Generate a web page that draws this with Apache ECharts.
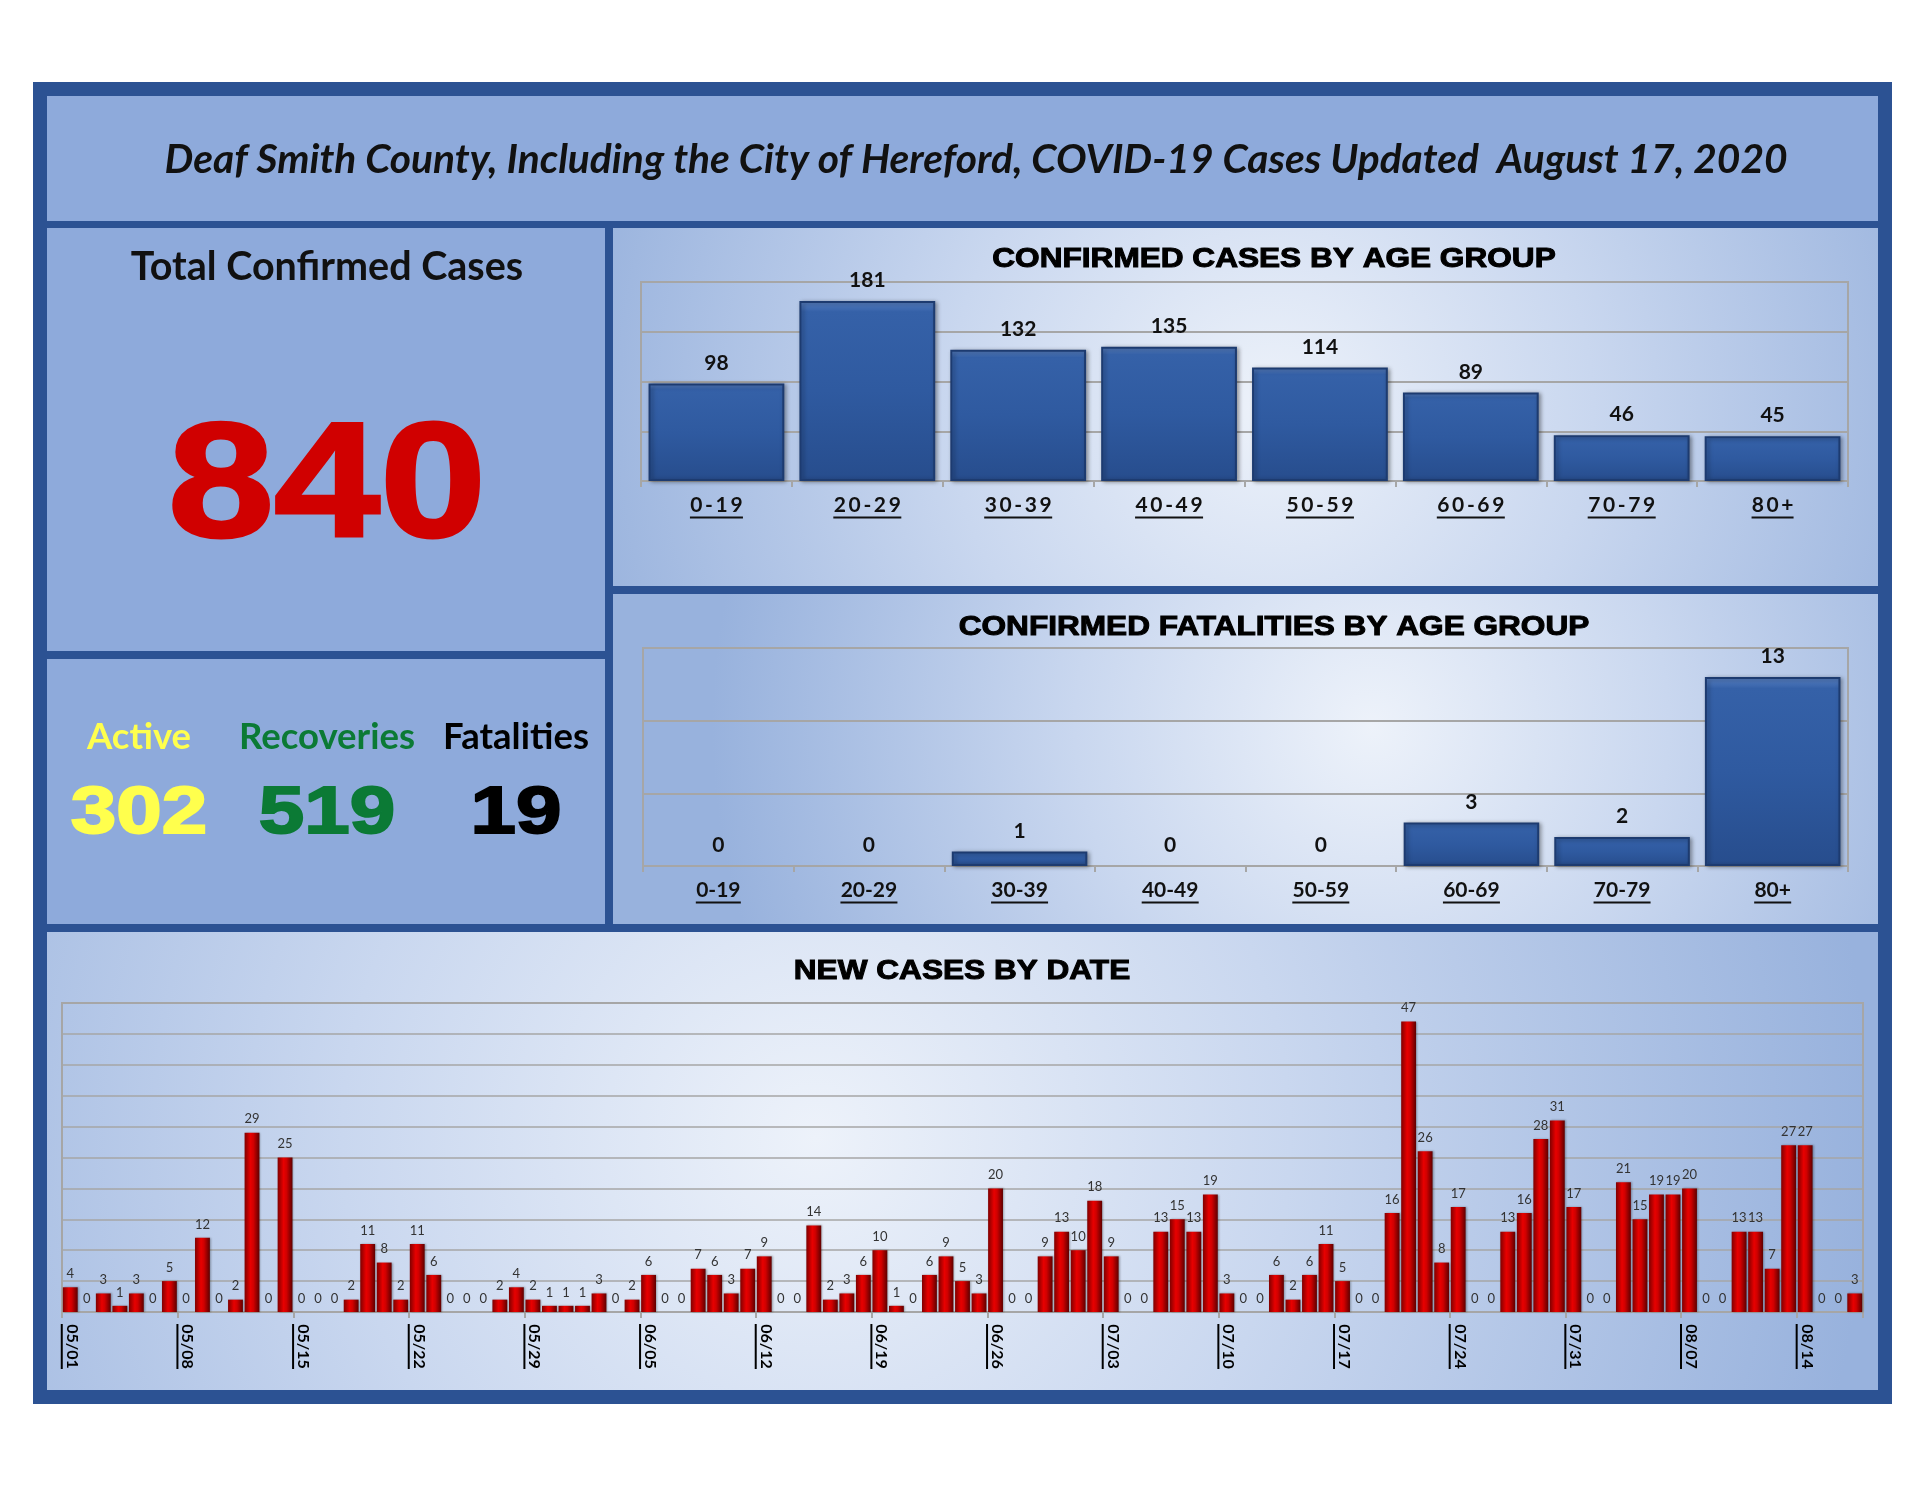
<!DOCTYPE html>
<html><head><meta charset="utf-8">
<script src="https://cdn.jsdelivr.net/npm/echarts@6/dist/echarts.min.js"></script>
<style>html,body{margin:0;padding:0;background:#fff}#c{width:1925px;height:1488px}</style>
</head><body><div id="c"></div>
<script>
// ---------------- data ----------------
const reportTitle = 'Deaf Smith County, Including the City of Hereford, COVID-19 Cases Updated  August 17, 2020';
const totalLabel = 'Total Confirmed Cases';
const totalCases = 840;
const statusLabels = ['Active', 'Recoveries', 'Fatalities'];
const statusValues = [302, 519, 19];
const chartTitles = ['CONFIRMED CASES BY AGE GROUP', 'CONFIRMED FATALITIES BY AGE GROUP', 'NEW CASES BY DATE'];
const ageGroups = ['0-19', '20-29', '30-39', '40-49', '50-59', '60-69', '70-79', '80+'];
const casesByAge = [98, 181, 132, 135, 114, 89, 46, 45];
const fatalitiesByAge = [0, 0, 1, 0, 0, 3, 2, 13];
const dates = [
  '05/01','05/02','05/03','05/04','05/05','05/06','05/07','05/08','05/09','05/10','05/11','05/12','05/13','05/14','05/15','05/16',
  '05/17','05/18','05/19','05/20','05/21','05/22','05/23','05/24','05/25','05/26','05/27','05/28','05/29','05/30','05/31',
  '06/01','06/02','06/03','06/04','06/05','06/06','06/07','06/08','06/09','06/10','06/11','06/12','06/13','06/14','06/15',
  '06/16','06/17','06/18','06/19','06/20','06/21','06/22','06/23','06/24','06/25','06/26','06/27','06/28','06/29','06/30',
  '07/01','07/02','07/03','07/04','07/05','07/06','07/07','07/08','07/09','07/10','07/11','07/12','07/13','07/14','07/15','07/16',
  '07/17','07/18','07/19','07/20','07/21','07/22','07/23','07/24','07/25','07/26','07/27','07/28','07/29','07/30','07/31',
  '08/01','08/02','08/03','08/04','08/05','08/06','08/07','08/08','08/09','08/10','08/11','08/12','08/13','08/14','08/15','08/16','08/17'
];
const newCases = [
  4,0,3,1,3,0,5,0,12,0,2,29,0,25,0,0,0,2,11,8,2,11,6,0,0,0,2,4,2,1,1,
  1,3,0,2,6,0,0,7,6,3,7,9,0,0,14,2,3,6,10,1,0,6,9,5,3,20,0,0,9,13,
  10,18,9,0,0,13,15,13,19,3,0,0,6,2,6,11,5,0,0,16,47,26,8,17,0,0,13,16,28,31,17,
  0,0,21,15,19,19,20,0,0,13,13,7,27,27,0,0,3
];
const weeklyLabelStep = 7;

// ---------------- helpers ----------------
const mctx = document.createElement('canvas').getContext('2d');
function textWidth(s, font) { mctx.font = font; return Math.ceil(mctx.measureText(s).width); }
function underlinedLabels(labels, size, color, spaced) {
  const font = 'bold ' + size + 'px Lato';
  const show = (l) => spaced ? l.split('').join('\u2009') : l;
  const rich = { t: { fontFamily: 'Lato', fontWeight: 'bold', fontSize: size, color: color, lineHeight: size + 1, align: 'center' } };
  labels.forEach((l, i) => {
    rich['u' + i] = { width: textWidth(show(l), font), height: 2, lineHeight: 3, backgroundColor: color, align: 'center' };
  });
  return { rich: rich, formatter: (v, i) => '{t|' + show(v) + '}\n{u' + i + '|}' };
}

const chart = echarts.init(document.getElementById('c'), null, { renderer: 'canvas' });
const G = echarts.graphic;

const panelFlat = '#8EAADB';
const frameColor = '#2C5293';
function radial(cx, cy, r) {
  return new G.RadialGradient(cx, cy, r, [
    { offset: 0, color: '#edf2fa' },
    { offset: 0.45, color: '#c9d7ef' },
    { offset: 1, color: '#98b2dd' }
  ]);
}
const blueBar = new G.LinearGradient(0, 0, 0, 1, [
  { offset: 0, color: '#5a82c4' },
  { offset: 0.06, color: '#3561a8' },
  { offset: 0.5, color: '#2f5aa0' },
  { offset: 1, color: '#274d8d' }
]);
const redBar = new G.LinearGradient(0, 0, 1, 0, [
  { offset: 0, color: '#800000' },
  { offset: 0.4, color: '#e80000' },
  { offset: 0.6, color: '#d00000' },
  { offset: 1, color: '#5e0000' }
]);

const topLab = underlinedLabels(ageGroups, 21, '#111', true);
const fatLab = underlinedLabels(ageGroups, 21, '#111', false);
const dateLab = underlinedLabels(dates, 16, '#000', false);

const gridLine = { show: true, lineStyle: { color: '#a6a6a6', width: 2 } };
const titleStyle = { x: 0, y: 0, fontFamily: 'Liberation Sans', fontWeight: 'bold', fontSize: 27, fill: '#000', stroke: '#000', lineWidth: 1, textAlign: 'center', textVerticalAlign: 'middle' };

const graphics = [
  { type: 'rect', z: -20, shape: { x: 33, y: 82, width: 1859, height: 1322 }, style: { fill: frameColor } },
  { type: 'rect', z: -19, shape: { x: 47, y: 96, width: 1831, height: 125 }, style: { fill: panelFlat } },
  { type: 'rect', z: -19, shape: { x: 47, y: 228, width: 558, height: 423 }, style: { fill: panelFlat } },
  { type: 'rect', z: -19, shape: { x: 47, y: 659, width: 558, height: 265 }, style: { fill: panelFlat } },
  { type: 'rect', z: -19, shape: { x: 613, y: 228, width: 1265, height: 358 }, style: { fill: radial(0.52, 0.5, 2.0) } },
  { type: 'rect', z: -19, shape: { x: 613, y: 594, width: 1265, height: 330 }, style: { fill: radial(0.6, 0.4, 2.0) } },
  { type: 'rect', z: -19, shape: { x: 47, y: 932, width: 1831, height: 458 }, style: { fill: radial(0.42, 0.45, 2.3) } },
  { type: 'text', z: 50, x: 976, y: 160, style: { text: reportTitle, x: 0, y: 0, fontFamily: 'Lato', fontWeight: 'bold', fontStyle: 'italic', fontSize: 40.7, fill: '#111', textAlign: 'center', textVerticalAlign: 'middle' } },
  { type: 'text', z: 50, x: 327, y: 267, style: { text: totalLabel, x: 0, y: 0, fontFamily: 'Lato', fontWeight: 'bold', fontSize: 39.5, fill: '#111', textAlign: 'center', textVerticalAlign: 'middle' } },
  { type: 'text', z: 50, x: 327, y: 491, scaleX: 1.17, style: { text: String(totalCases), x: 0, y: 0, fontFamily: 'Liberation Sans', fontWeight: 'bold', fontSize: 163, fill: '#D00000', stroke: '#D00000', lineWidth: 3, textAlign: 'center', textVerticalAlign: 'middle' } },
  { type: 'text', z: 50, x: 1274, y: 260, scaleX: 1.17, style: Object.assign({ text: chartTitles[0] }, titleStyle) },
  { type: 'text', z: 50, x: 1274, y: 628, scaleX: 1.17, style: Object.assign({ text: chartTitles[1] }, titleStyle) },
  { type: 'text', z: 50, x: 962, y: 972, scaleX: 1.17, style: Object.assign({ text: chartTitles[2] }, titleStyle) }
];
const statusX = [139, 327, 516];
const statusColors = ['#FFFF4D', '#0B7A35', '#000000'];
statusLabels.forEach((lab, i) => {
  graphics.push({ type: 'text', z: 50, x: statusX[i], y: 737, style: { text: lab, x: 0, y: 0, fontFamily: 'Lato', fontWeight: 'bold', fontSize: 36.5, fill: statusColors[i], textAlign: 'center', textVerticalAlign: 'middle' } });
  graphics.push({ type: 'text', z: 50, x: statusX[i], y: 815, scaleX: 1.22, style: { text: String(statusValues[i]), x: 0, y: 0, fontFamily: 'Liberation Sans', fontWeight: 'bold', fontSize: 67, fill: statusColors[i], stroke: statusColors[i], lineWidth: 2, textAlign: 'center', textVerticalAlign: 'middle' } });
});

function ageAxis(gridIndex, lab) {
  return {
    gridIndex: gridIndex, type: 'category', data: ageGroups,
    axisLine: { lineStyle: { color: '#a6a6a6', width: 2 } },
    axisTick: { show: true, length: 6, lineStyle: { color: '#a6a6a6', width: 2 } },
    axisLabel: { margin: 13, formatter: lab.formatter, rich: lab.rich }
  };
}
const barLabelTop = { show: true, position: 'top', distance: 10, fontFamily: 'Lato', fontWeight: 'bold', fontSize: 21, color: '#111' };
const blueItem = { color: blueBar, borderColor: '#1d3b70', borderWidth: 2, shadowColor: 'rgba(0,0,0,0.35)', shadowBlur: 4, shadowOffsetX: 2, shadowOffsetY: 1 };
const noMark = { borderWidth: 0, shadowBlur: 0, shadowOffsetX: 0, shadowOffsetY: 0, shadowColor: 'transparent' };
const withZeroHidden = (arr) => arr.map(v => v === 0 ? { value: v, itemStyle: noMark } : v);

const option = {
  animation: false,
  backgroundColor: '#ffffff',
  graphic: { elements: graphics },
  grid: [
    { left: 641, right: 77, top: 282, height: 199, show: true, borderColor: '#a6a6a6', borderWidth: 2, backgroundColor: 'transparent' },
    { left: 643, right: 77, top: 648, height: 218, show: true, borderColor: '#a6a6a6', borderWidth: 2, backgroundColor: 'transparent' },
    { left: 62, right: 62, top: 1003, height: 309, show: true, borderColor: '#a6a6a6', borderWidth: 2, backgroundColor: 'transparent' }
  ],
  xAxis: [
    ageAxis(0, topLab),
    ageAxis(1, fatLab),
    {
      gridIndex: 2, type: 'category', data: dates,
      axisLine: { lineStyle: { color: '#a6a6a6', width: 2 } },
      axisTick: { show: true, length: 6, interval: (i) => i % weeklyLabelStep === 0, lineStyle: { color: '#a6a6a6', width: 2 } },
      axisLabel: { margin: 12, rotate: -90, interval: (i) => i % weeklyLabelStep === 0, formatter: dateLab.formatter, rich: dateLab.rich }
    }
  ],
  yAxis: [
    { gridIndex: 0, type: 'value', min: 0, max: 200, interval: 50, axisLabel: { show: false }, axisLine: { show: false }, axisTick: { show: false }, splitLine: gridLine },
    { gridIndex: 1, type: 'value', min: 0, max: 15, interval: 5, axisLabel: { show: false }, axisLine: { show: false }, axisTick: { show: false }, splitLine: gridLine },
    { gridIndex: 2, type: 'value', min: 0, max: 50, interval: 5, axisLabel: { show: false }, axisLine: { show: false }, axisTick: { show: false }, splitLine: { show: true, lineStyle: { color: '#a6a6a6', width: 1.5 } } }
  ],
  series: [
    { type: 'bar', xAxisIndex: 0, yAxisIndex: 0, data: casesByAge, barCategoryGap: '10%', itemStyle: blueItem, label: barLabelTop },
    { type: 'bar', xAxisIndex: 1, yAxisIndex: 1, data: withZeroHidden(fatalitiesByAge), barCategoryGap: '10%', itemStyle: blueItem, label: barLabelTop },
    { type: 'bar', xAxisIndex: 2, yAxisIndex: 2, data: newCases, barCategoryGap: '10%',
      itemStyle: { color: redBar, shadowColor: 'rgba(0,0,0,0.3)', shadowBlur: 2, shadowOffsetX: 1 },
      label: { show: true, position: 'top', distance: 7, fontFamily: 'Lato', fontSize: 13, color: '#333' } }
  ]
};
chart.setOption(option);
</script>
</body></html>
